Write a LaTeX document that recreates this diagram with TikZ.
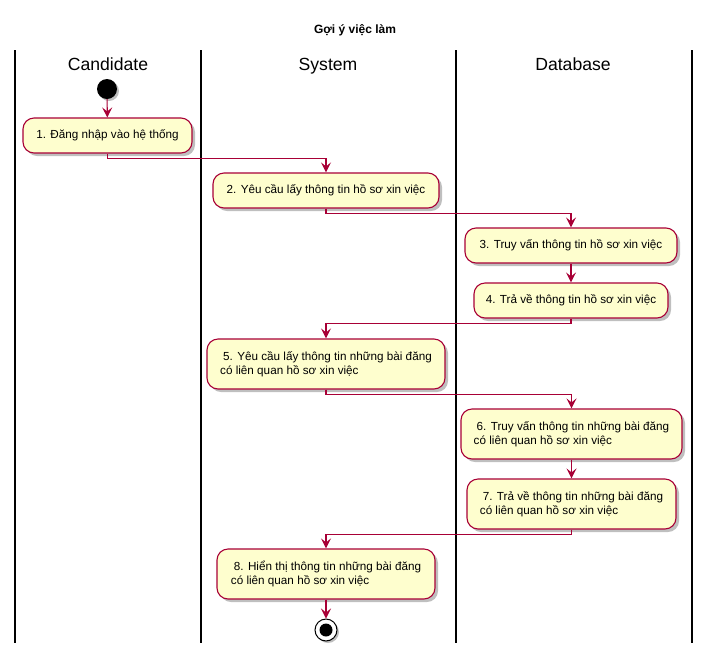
\documentclass[tikz,border=0pt]{standalone}
\usepackage{fontspec}
\setmainfont{Liberation Sans}
\usetikzlibrary{arrows.meta,shadows}
\definecolor{umlred}{HTML}{A80036}
\definecolor{umlfill}{HTML}{FEFECE}
\tikzset{
  act/.style={draw=umlred, fill=umlfill, line width=1.1pt, rounded corners=11pt,
    font=\fontsize{11.7}{14.5}\selectfont, align=left, inner sep=0pt,
    drop shadow={shadow xshift=3pt, shadow yshift=-3pt, opacity=0.25, fill=black}},
  arr/.style={draw=umlred, line width=1.1pt, -{Stealth[length=10pt,width=10pt,inset=4pt]}},
  lane/.style={line width=1.5pt, black},
  lanehead/.style={font=\fontsize{17.6}{20}\selectfont, anchor=base},
}
\begin{document}
\begin{tikzpicture}[x=1pt,y=-1pt]
\useasboundingbox (0,0) rectangle (710,657);
\node[font=\bfseries\fontsize{12}{14}\selectfont] (title) at (355,30) {Gợi ý việc làm};
\draw[lane] (15,50) -- (15,643);
\draw[lane] (201,50) -- (201,643);
\draw[lane] (456,50) -- (456,643);
\draw[lane] (692,50) -- (692,643);
\node[lanehead] (hc) at (108,70) {Candidate};
\node[lanehead] (hs) at (328,70) {System};
\node[lanehead] (hd) at (573,70) {Database};

\node[circle, fill=black, minimum size=20pt, inner sep=0pt,
  drop shadow={shadow xshift=2pt, shadow yshift=-2pt, opacity=0.25, fill=black}] (start) at (107,89) {};
\node[act, minimum width=169pt, minimum height=35pt] (n1) at (107.5,135.5) {1. Đăng nhập vào hệ thống};
\node[act, minimum width=226pt, minimum height=35pt] (n2) at (326,190.5) {2. Yêu cầu lấy thông tin hồ sơ xin việc};
\node[act, minimum width=212pt, minimum height=35pt] (n3) at (571,245.5) {3. Truy vấn thông tin hồ sơ xin việc};
\node[act, minimum width=194pt, minimum height=35pt] (n4) at (571,300.5) {4. Trả về thông tin hồ sơ xin việc};
\node[act, minimum width=238pt, minimum height=50pt] (n5) at (326,364) {\hspace{3pt}5. Yêu cầu lấy thông tin những bài đăng\\có liên quan hồ sơ xin việc};
\node[act, minimum width=221pt, minimum height=50pt] (n6) at (571.5,434) {\hspace{3pt}6. Truy vấn thông tin những bài đăng\\có liên quan hồ sơ xin việc};
\node[act, minimum width=209pt, minimum height=50pt] (n7) at (571.5,504) {\hspace{3pt}7. Trả về thông tin những bài đăng\\có liên quan hồ sơ xin việc};
\node[act, minimum width=218pt, minimum height=50pt] (n8) at (326,574) {\hspace{3pt}8. Hiển thị thông tin những bài đăng\\có liên quan hồ sơ xin việc};
\node[circle, draw=black, fill=white, line width=1pt, minimum size=22pt, inner sep=0pt,
  drop shadow={shadow xshift=2pt, shadow yshift=-2pt, opacity=0.25, fill=black}] (stop) at (326,630) {};
\node[circle, fill=black, minimum size=13pt, inner sep=0pt] (stopin) at (stop.center) {};

\draw[arr] (start) -- (n1);
\draw[arr] (n1.south) -- ++(0,5) -| (n2.north);
\draw[arr] (n2.south) -- ++(0,5) -| (n3.north);
\draw[arr] (n3) -- (n4);
\draw[arr] (n4.south) -- ++(0,5) -| (n5.north);
\draw[arr] (n5.south) -- ++(0,5) -| (n6.north);
\draw[arr] (n6) -- (n7);
\draw[arr] (n7.south) -- ++(0,5) -| (n8.north);
\draw[arr] (n8) -- (stop);
\end{tikzpicture}
\end{document}
